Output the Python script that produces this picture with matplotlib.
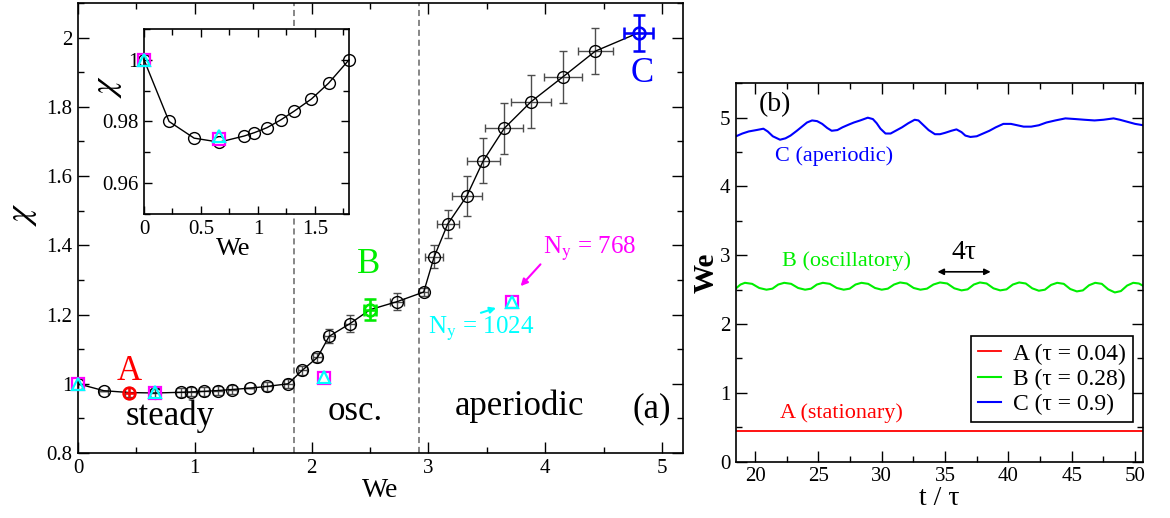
import matplotlib
matplotlib.use("Agg")
import matplotlib.pyplot as plt
from matplotlib.ticker import MultipleLocator, FuncFormatter

# -------------------------------------------------
# Data
# -------------------------------------------------

# panel (a): chi vs We, main branch
we_main = [0.0, 0.22, 0.44, 0.66, 0.88, 0.97, 1.08, 1.20, 1.32, 1.47, 1.62, 1.80,
           1.92, 2.05, 2.15, 2.33, 2.50, 2.73, 2.96, 3.05, 3.165, 3.33, 3.47,
           3.65, 3.88, 4.15, 4.43, 4.80]
chi_main = [1.0, 0.980, 0.9746, 0.9733, 0.9753, 0.9764, 0.978, 0.9805, 0.9834,
            0.9873, 0.9924, 1.0, 1.039, 1.076, 1.137, 1.174, 1.214, 1.237,
            1.265, 1.367, 1.461, 1.543, 1.644, 1.738, 1.815, 1.886, 1.961, 2.014]
we_err = [0.0, 0.04, 0.04, 0.04, 0.04, 0.04, 0.04, 0.04, 0.04, 0.04, 0.04, 0.04,
          0.04, 0.04, 0.04, 0.04, 0.05, 0.06, 0.04, 0.079, 0.094, 0.128, 0.141,
          0.162, 0.17, 0.164, 0.151, 0.121]
chi_err = [0.0, 0.0, 0.013, 0.013, 0.013, 0.013, 0.013, 0.013, 0.013, 0.0, 0.013,
           0.013, 0.013, 0.013, 0.02, 0.025, 0.031, 0.024, 0.012, 0.034, 0.04,
           0.058, 0.065, 0.074, 0.077, 0.074, 0.067, 0.052]

# indices of the highlighted runs A, B, C
idx_A, idx_B, idx_C = 2, 16, 27

# resolution check runs
ny_we = [0.0, 0.66, 2.11, 3.715]
ny768_chi = [1.0, 0.9742, 1.018, 1.237]
ny1024_chi = [1.0, 0.9752, 1.019, 1.237]

# regime boundaries
we_bounds = [1.85, 2.92]

# inset uses the steady part only
n_inset = 12
n_inset_ny = 2

# panel (b): We(t) for runs A, B, C
t_A = [18.5, 50.65]
we_A = [0.44, 0.44]

t_B = [18.5, 18.85, 19.2, 19.77, 20.33, 20.9, 21.37, 21.83, 22.3, 22.85, 23.4,
       23.95, 24.42, 24.88, 25.35, 25.9, 26.45, 27.0, 27.47, 27.93, 28.4, 28.93,
       29.47, 30.0, 30.48, 30.97, 31.45, 31.98, 32.52, 33.05, 33.57, 34.08, 34.6,
       35.17, 35.73, 36.3, 36.78, 37.27, 37.75, 38.28, 38.82, 39.35, 39.85, 40.35,
       40.85, 41.37, 41.88, 42.4, 42.88, 43.37, 43.85, 44.37, 44.88, 45.4, 45.88,
       46.37, 46.85, 47.37, 47.88, 48.4, 48.88, 49.37, 49.85, 50.3, 50.65]
we_B = [2.52, 2.575, 2.60, 2.585, 2.525, 2.50, 2.515, 2.575, 2.60, 2.585, 2.525,
        2.50, 2.515, 2.575, 2.60, 2.585, 2.525, 2.50, 2.515, 2.575, 2.60, 2.585,
        2.525, 2.50, 2.515, 2.575, 2.605, 2.59, 2.525, 2.50, 2.515, 2.575, 2.605,
        2.59, 2.52, 2.49, 2.505, 2.575, 2.605, 2.59, 2.52, 2.49, 2.505, 2.575,
        2.605, 2.59, 2.52, 2.485, 2.50, 2.57, 2.60, 2.585, 2.51, 2.475, 2.49,
        2.565, 2.60, 2.585, 2.505, 2.46, 2.48, 2.56, 2.60, 2.59, 2.555]

t_C = [18.5, 19.0, 19.5, 20.1, 20.66, 21.0, 21.4, 21.97, 22.4, 22.8, 23.3, 23.7,
       24.1, 24.5, 24.9, 25.3, 25.7, 26.05, 26.5, 26.9, 27.4, 27.8, 28.3, 28.9,
       29.3, 29.6, 29.9, 30.3, 30.7, 31.1, 31.6, 32.1, 32.6, 32.9, 33.3, 33.7,
       34.2, 34.6, 35.0, 35.5, 35.9, 36.3, 36.6, 37.0, 37.5, 38.0, 38.5, 39.0,
       39.6, 40.2, 40.7, 41.2, 41.8, 42.4, 43.0, 43.7, 44.5, 45.3, 46.0, 46.8,
       47.5, 48.3, 48.8, 49.4, 50.0, 50.65]
we_C = [4.73, 4.77, 4.80, 4.82, 4.84, 4.80, 4.73, 4.68, 4.70, 4.74, 4.81, 4.87,
        4.93, 4.96, 4.95, 4.91, 4.85, 4.81, 4.82, 4.86, 4.90, 4.93, 4.96, 5.00,
        4.98, 4.92, 4.84, 4.77, 4.77, 4.81, 4.86, 4.92, 4.97, 4.96, 4.89, 4.82,
        4.76, 4.76, 4.78, 4.81, 4.83, 4.79, 4.74, 4.72, 4.73, 4.77, 4.81, 4.86,
        4.91, 4.91, 4.89, 4.87, 4.87, 4.89, 4.93, 4.96, 4.99, 4.98, 4.97, 4.96,
        4.97, 4.99, 4.97, 4.94, 4.91, 4.89]

legend_labels = ["A (τ = 0.04)", "B (τ = 0.28)", "C (τ = 0.9)"]

RED = "#ff0000"
GREEN = "#00ee00"
BLUE = "#0000ff"
MAGENTA = "#ff00ff"
CYAN = "#00ffff"
SERIF = "Liberation Serif"


# -------------------------------------------------
# Helpers
# -------------------------------------------------
def fmt_g(v, pos):
    return f"{v:g}"


def style_axis(ax, major_len, minor_len, size):
    ax.tick_params(which="both", direction="in", top=True, right=True,
                   labelsize=size, width=1, labelfontfamily=SERIF)
    ax.tick_params(which="major", length=major_len, pad=4)
    ax.tick_params(which="minor", length=minor_len)
    for sp in ax.spines.values():
        sp.set_linewidth(1.2)
    ax.xaxis.set_major_formatter(FuncFormatter(fmt_g))
    ax.yaxis.set_major_formatter(FuncFormatter(fmt_g))


def draw_ny_points(ax, ms, n):
    ax.plot(ny_we[:n], ny768_chi[:n], "s", ms=ms, mfc="none", mec=MAGENTA,
            mew=1.6, zorder=5, clip_on=False)
    ax.plot(ny_we[:n], ny1024_chi[:n], "^", ms=ms, mfc="none", mec=CYAN,
            mew=1.6, zorder=6, clip_on=False)


# -------------------------------------------------
# Panel (a)
# -------------------------------------------------
def panel_a(fig):
    ax = fig.add_axes([0.0667, 0.1255, 0.517, 0.8687])

    for wb in we_bounds:
        ax.axvline(wb, color="0.4", ls=(0, (4, 2.5)), lw=1.1, zorder=1)

    ax.errorbar(we_main, chi_main, xerr=we_err, yerr=chi_err, fmt="none",
                ecolor="0.3", elinewidth=1, capsize=3, zorder=2)
    ax.plot(we_main, chi_main, "-o", color="black", lw=1, ms=8.5,
            mfc="none", mec="black", mew=1, zorder=3)

    # highlighted runs
    for i, c, cs in [(idx_A, RED, 0), (idx_B, GREEN, 4), (idx_C, BLUE, 4.5)]:
        ax.errorbar([we_main[i]], [chi_main[i]], xerr=[we_err[i]],
                    yerr=[chi_err[i]], fmt="o", ms=8.5, mfc="none", mec=c,
                    mew=1.8, ecolor=c, elinewidth=1.8, capsize=cs, zorder=4)

    draw_ny_points(ax, 9, len(ny_we))

    ax.set_xlim(0, 5.18)
    ax.set_ylim(0.8, 2.1)
    ax.xaxis.set_major_locator(MultipleLocator(1))
    ax.xaxis.set_minor_locator(MultipleLocator(0.5))
    ax.yaxis.set_major_locator(MultipleLocator(0.2))
    ax.yaxis.set_minor_locator(MultipleLocator(0.1))
    style_axis(ax, 8, 4, 15)
    ax.set_xlabel("We", fontsize=20, labelpad=0)
    ax.set_ylabel(r"$\chi$", fontsize=26)
    ax.yaxis.set_label_coords(-0.064, 0.53)

    # regime names and run labels
    ax.text(0.79, 0.905, "steady", fontsize=25, ha="center", va="center")
    ax.text(2.37, 0.92, "osc.", fontsize=25, ha="center", va="center")
    ax.text(3.78, 0.935, "aperiodic", fontsize=25, ha="center", va="center")
    ax.text(4.91, 0.927, "(a)", fontsize=25, ha="center", va="center")
    ax.text(0.44, 1.035, "A", fontsize=25, color=RED, ha="center", va="center")
    ax.text(2.49, 1.345, "B", fontsize=25, color=GREEN, ha="center", va="center")
    ax.text(4.83, 1.895, "C", fontsize=25, color=BLUE, ha="center", va="center")

    ax.text(4.38, 1.39, r"N$_{\rm y}$ = 768", fontsize=18, color=MAGENTA,
            ha="center", va="center")
    ax.annotate("", xy=(3.79, 1.282), xytext=(3.96, 1.345),
                arrowprops=dict(arrowstyle="-|>", color=MAGENTA, lw=1.5,
                                mutation_scale=10, shrinkA=0, shrinkB=0))
    ax.text(3.45, 1.158, r"N$_{\rm y}$ = 1024", fontsize=18, color=CYAN,
            ha="center", va="center")
    ax.annotate("", xy=(3.58, 1.219), xytext=(3.45, 1.205),
                arrowprops=dict(arrowstyle="-|>", color=CYAN, lw=1.5,
                                mutation_scale=9, shrinkA=0, shrinkB=0))

    # inset: zoom on the steady branch
    ins = fig.add_axes([0.1231, 0.5869, 0.1752, 0.3571])
    ins.plot(we_main[:n_inset], chi_main[:n_inset], "-o", color="black", lw=1,
             ms=8.5, mfc="none", mec="black", mew=1, zorder=3, clip_on=False)
    draw_ny_points(ins, 9, n_inset_ny)
    ins.set_xlim(0, 1.8)
    ins.set_ylim(0.95, 1.01)
    ins.xaxis.set_major_locator(MultipleLocator(0.5))
    ins.xaxis.set_minor_locator(MultipleLocator(0.25))
    ins.yaxis.set_major_locator(MultipleLocator(0.02))
    ins.yaxis.set_minor_locator(MultipleLocator(0.01))
    style_axis(ins, 6, 4, 15)
    ins.set_xlabel("We", fontsize=19)
    ins.xaxis.set_label_coords(0.434, -0.13)
    ins.set_ylabel(r"$\chi$", fontsize=25)
    ins.yaxis.set_label_coords(-0.1, 0.69)


# -------------------------------------------------
# Panel (b)
# -------------------------------------------------
def panel_b(fig):
    ax = fig.add_axes([0.6291, 0.1087, 0.3481, 0.7305])

    ax.plot(t_A, we_A, color=RED, lw=1.3, label=legend_labels[0])
    ax.plot(t_B, we_B, color=GREEN, lw=1.5, label=legend_labels[1])
    ax.plot(t_C, we_C, color=BLUE, lw=1.5, label=legend_labels[2])

    ax.set_xlim(18.5, 50.65)
    ax.set_ylim(0, 5.5)
    ax.xaxis.set_major_locator(MultipleLocator(5))
    ax.xaxis.set_minor_locator(MultipleLocator(2.5))
    ax.yaxis.set_major_locator(MultipleLocator(1))
    ax.yaxis.set_minor_locator(MultipleLocator(0.5))
    style_axis(ax, 8, 4, 15)
    ax.set_xlabel("t / τ", fontsize=20, labelpad=0)
    ax.set_ylabel("We", fontsize=21, fontweight="bold", labelpad=0)

    ax.text(21.6, 5.19, "(b)", fontsize=20, ha="center", va="center")
    ax.text(26.2, 4.44, "C (aperiodic)", fontsize=16, color=BLUE,
            ha="center", va="center")
    ax.text(27.2, 2.91, "B (oscillatory)", fontsize=16, color=GREEN,
            ha="center", va="center")
    ax.text(26.85, 0.71, "A (stationary)", fontsize=16, color=RED,
            ha="center", va="center")
    ax.text(36.45, 3.04, "4τ", fontsize=20, ha="center", va="center")
    ax.annotate("", xy=(38.6, 2.76), xytext=(34.4, 2.76),
                arrowprops=dict(arrowstyle="<|-|>", color="black", lw=1.2,
                                mutation_scale=9, shrinkA=0, shrinkB=0))

    leg = ax.legend(loc="lower right", bbox_to_anchor=(0.975, 0.105),
                    fontsize=17, frameon=True, fancybox=False, framealpha=1,
                    edgecolor="black", handlelength=1.0, handletextpad=0.5,
                    borderpad=0.3, labelspacing=0.15, borderaxespad=0)
    leg.get_frame().set_linewidth(1.2)


# -------------------------------------------------
# Main Program
# -------------------------------------------------
def main():
    plt.rcParams["font.family"] = [SERIF, "DejaVu Serif"]
    plt.rcParams["mathtext.fontset"] = "stix"

    fig = plt.figure(figsize=(11.7, 5.18), dpi=100)
    panel_a(fig)
    panel_b(fig)
    fig.savefig("out.png", dpi=100)


if __name__ == "__main__":
    main()
